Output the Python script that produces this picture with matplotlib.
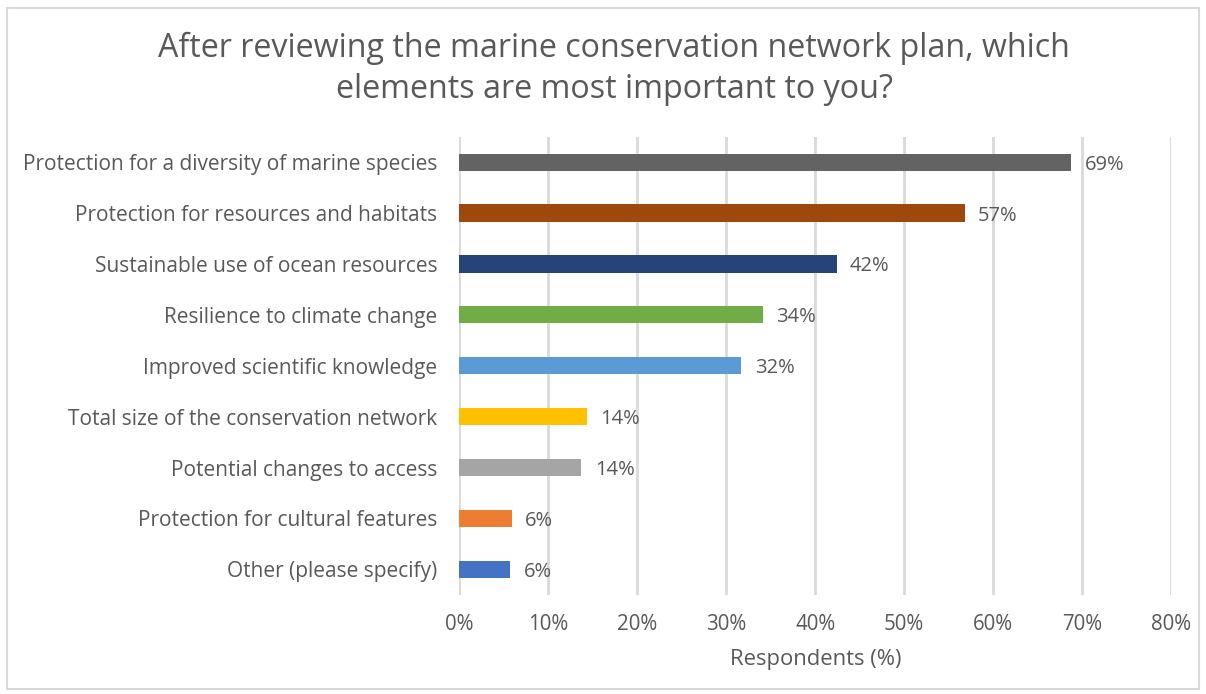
import matplotlib
matplotlib.use("Agg")
import matplotlib.pyplot as plt
from matplotlib.patches import Rectangle

categories = [
    "Protection for a diversity of marine species",
    "Protection for resources and habitats",
    "Sustainable use of ocean resources",
    "Resilience to climate change",
    "Improved scientific knowledge",
    "Total size of the conservation network",
    "Potential changes to access",
    "Protection for cultural features",
    "Other (please specify)",
]
values = [68.8, 56.8, 42.4, 34.1, 31.7, 14.3, 13.7, 5.9, 5.7]
colors = ["#636363", "#9E480E", "#264478", "#70AD47", "#5B9BD5",
          "#FFC000", "#A5A5A5", "#ED7D31", "#4472C4"]
x_ticks = [0, 10, 20, 30, 40, 50, 60, 70, 80]

TEXT = "#595959"
GRID = "#D9D9D9"
plt.rcParams["font.family"] = ["Open Sans", "DejaVu Sans"]

fig = plt.figure(figsize=(12.06, 6.94), dpi=100)
ax = fig.add_axes([0.381, 0.143, 0.590, 0.660])

y = list(range(len(categories)))
ax.barh(y, values, height=0.34, color=colors, zorder=3)
for yi, v in zip(y, values):
    ax.text(v + 1.5, yi, f"{v:.0f}%", va="center_baseline", ha="left",
            fontsize=14.5, color=TEXT)

ax.set_xlim(0, 80)
ax.set_ylim(len(categories) - 0.5, -0.5)
ax.set_yticks(y)
ax.set_yticklabels(categories, fontsize=15, color=TEXT)
ax.set_xticks(x_ticks)
ax.set_xticklabels([f"{t}%" for t in x_ticks], fontsize=14.8, color=TEXT)
ax.tick_params(axis="both", length=0)
ax.tick_params(axis="y", pad=16)
ax.tick_params(axis="x", pad=14)
for s in ax.spines.values():
    s.set_visible(False)
ax.grid(axis="x", color=GRID, linewidth=2, zorder=0)
ax.set_xlabel("Respondents (%)", fontsize=15.8, color=TEXT, labelpad=10)

fig.text(614 / 1206, 1 - 69 / 694,
         "After reviewing the marine conservation network plan, which\nelements are most important to you?",
         ha="center", va="center", fontsize=23.2, color=TEXT, linespacing=1.32)

fig.patches.append(Rectangle((7 / 1206, 1 - 689 / 694), 1192 / 1206, 681 / 694,
                             transform=fig.transFigure, fill=False,
                             edgecolor=GRID, linewidth=1.5))

fig.savefig("out.png", dpi=100)
